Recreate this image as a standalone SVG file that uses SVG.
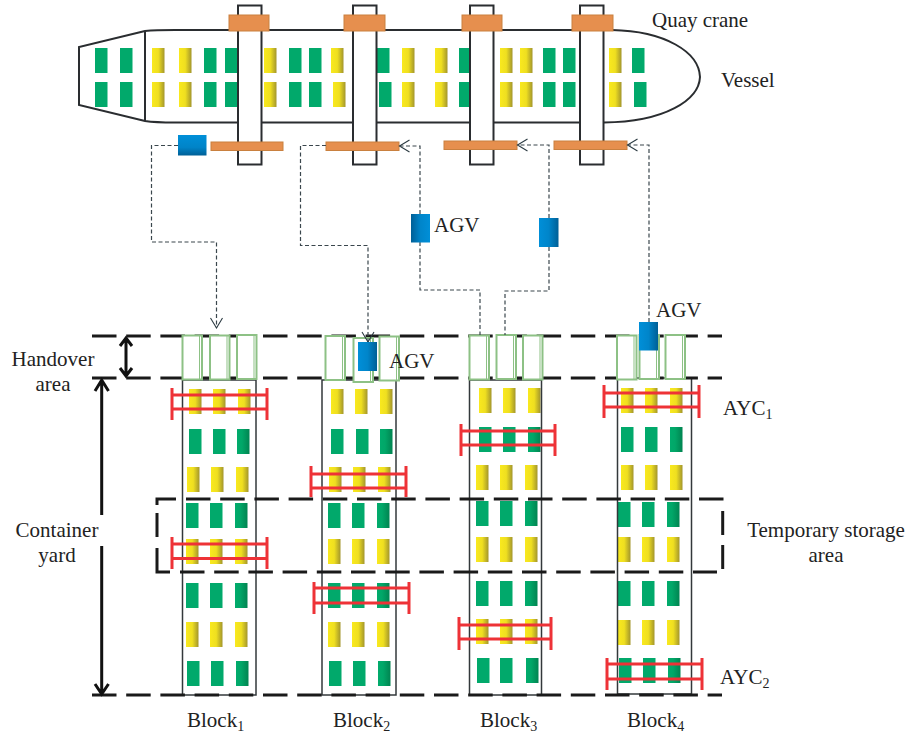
<svg xmlns="http://www.w3.org/2000/svg" xmlns:xlink="http://www.w3.org/1999/xlink" width="906" height="735" viewBox="0 0 906 735">
<defs>
<linearGradient id="gy"><stop offset="0" stop-color="#f9e91e"/><stop offset=".5" stop-color="#efdf20"/><stop offset="1" stop-color="#a3962c"/></linearGradient>
<linearGradient id="gd"><stop offset="0" stop-color="#01ab6c"/><stop offset=".4" stop-color="#01a768"/><stop offset="1" stop-color="#018451"/></linearGradient>
<linearGradient id="bh" x1="0" y1="0" x2="0" y2="1"><stop offset="0" stop-color="#008fd8"/><stop offset=".6" stop-color="#0084c8"/><stop offset="1" stop-color="#005f96"/></linearGradient>
<linearGradient id="bv"><stop offset="0" stop-color="#005f96"/><stop offset=".5" stop-color="#0085ca"/><stop offset="1" stop-color="#008fd8"/></linearGradient>
<rect id="y" width="12.5" height="25" fill="url(#gy)"/>
<rect id="g" width="12.5" height="25" fill="#01a96b"/>
<rect id="d" width="12.5" height="25" fill="url(#gd)"/>
<marker id="open" markerWidth="14" markerHeight="14" refX="11" refY="7" orient="auto" markerUnits="userSpaceOnUse"><path d="M1 1L11 7L1 13" fill="none" stroke="#2b3a42" stroke-width="1.100"/></marker>
<g id="rg"><path d="M0 0H19.500V44H0Z" fill="#fff" stroke="#8dc185" stroke-width="2"/><path d="M17 0V44" fill="none" stroke="#8dc185" stroke-width="1"/></g>
</defs>
<style>
text{font-family:"Liberation Serif","Times New Roman",serif;font-size:21px;fill:#222}
.sub{font-size:14px}
.hull{fill:#fff;stroke:#2a2d30;stroke-width:2}
.leg{fill:#fff;stroke:#2a2d30;stroke-width:2}
.or{fill:#e68f4e;stroke:#c9803f;stroke-width:1}
.blk{fill:none;stroke:#33383b;stroke-width:1.500}
.dash{fill:none;stroke:#1a1a1a;stroke-width:3;stroke-dasharray:24.500 9.700}
.flow{fill:none;stroke:#3a464d;stroke-width:1.200;stroke-dasharray:4 2.500}
.red{fill:none;stroke:#ee3237;stroke-width:3}
.arw{fill:none;stroke:#111;stroke-width:3}
</style>
<g id="vessel">
<path class="hull" d="M145 31L79 47V105L145 121C155 122.500 165 122.500 175 122.500H604C665 122 699 100 700 77C699 52 665 31 612 30H175C165 30 155 30 145 31Z"/>
<path class="hull" d="M145 31V121" fill="none"/>
<use xlink:href="#g" x="95" y="48"/><use xlink:href="#g" x="120" y="48"/><use xlink:href="#y" x="152" y="48"/><use xlink:href="#y" x="179" y="48"/><use xlink:href="#g" x="204" y="48"/><use xlink:href="#g" x="225" y="48"/><use xlink:href="#y" x="264" y="48"/><use xlink:href="#g" x="289" y="48"/><use xlink:href="#g" x="309" y="48"/><use xlink:href="#y" x="331" y="48"/><use xlink:href="#g" x="377" y="48"/><use xlink:href="#y" x="402" y="48"/><use xlink:href="#y" x="435" y="48"/><use xlink:href="#g" x="459" y="48"/><use xlink:href="#y" x="500" y="48"/><use xlink:href="#y" x="520" y="48"/><use xlink:href="#g" x="543" y="48"/><use xlink:href="#g" x="563" y="48"/><use xlink:href="#y" x="609" y="48"/><use xlink:href="#g" x="632" y="48"/>
<use xlink:href="#g" x="95" y="82"/><use xlink:href="#g" x="120" y="82"/><use xlink:href="#y" x="152" y="82"/><use xlink:href="#y" x="179" y="82"/><use xlink:href="#g" x="204" y="82"/><use xlink:href="#g" x="225" y="82"/><use xlink:href="#y" x="264" y="82"/><use xlink:href="#g" x="289" y="82"/><use xlink:href="#g" x="309" y="82"/><use xlink:href="#y" x="333" y="82"/><use xlink:href="#g" x="379" y="82"/><use xlink:href="#y" x="402" y="82"/><use xlink:href="#y" x="435" y="82"/><use xlink:href="#g" x="459" y="82"/><use xlink:href="#y" x="500" y="82"/><use xlink:href="#y" x="520" y="82"/><use xlink:href="#g" x="543" y="82"/><use xlink:href="#g" x="563" y="82"/><use xlink:href="#y" x="609" y="82"/><use xlink:href="#g" x="634" y="82"/>
<text x="652" y="27">Quay crane</text>
<text x="721" y="87">Vessel</text>
</g>
<g id="quay-crane-1"><rect class="leg" x="238" y="5.500" width="23.500" height="159"/><rect class="or" x="229" y="15" width="40" height="16"/><rect class="or" x="211" y="142" width="72" height="8.500"/></g>
<g id="quay-crane-2"><rect class="leg" x="353" y="5.500" width="23.500" height="159"/><rect class="or" x="344" y="15" width="41" height="16"/><rect class="or" x="326" y="142" width="73" height="8.500"/></g>
<g id="quay-crane-3"><rect class="leg" x="470" y="5.500" width="23.500" height="159"/><rect class="or" x="462" y="15" width="40" height="16"/><rect class="or" x="444" y="141" width="73" height="8.500"/></g>
<g id="quay-crane-4"><rect class="leg" x="580" y="5.500" width="23.500" height="159"/><rect class="or" x="572" y="15" width="41" height="16"/><rect class="or" x="554" y="141" width="73" height="8.500"/></g>
<g id="block-1">
<use xlink:href="#y" x="189" y="389"/><use xlink:href="#y" x="213" y="389"/><use xlink:href="#y" x="238" y="389"/>
<use xlink:href="#g" x="189" y="429"/><use xlink:href="#g" x="213" y="429"/><use xlink:href="#d" x="237" y="429"/>
<use xlink:href="#y" x="187" y="467"/><use xlink:href="#y" x="211" y="467"/><use xlink:href="#y" x="236" y="467"/>
<use xlink:href="#g" x="186" y="503"/><use xlink:href="#g" x="210" y="503"/><use xlink:href="#d" x="235" y="503"/>
<use xlink:href="#y" x="186" y="539"/><use xlink:href="#y" x="210" y="539"/><use xlink:href="#y" x="235" y="539"/>
<use xlink:href="#g" x="186" y="583"/><use xlink:href="#g" x="210" y="583"/><use xlink:href="#d" x="235" y="583"/>
<use xlink:href="#y" x="186" y="622"/><use xlink:href="#y" x="210" y="622"/><use xlink:href="#y" x="235" y="622"/>
<use xlink:href="#g" x="187" y="661"/><use xlink:href="#g" x="211" y="661"/><use xlink:href="#d" x="236" y="661"/>
<rect class="blk" x="182.500" y="380" width="73.500" height="315"/>
<text x="187" y="727">Block<tspan class="sub" dy="4">1</tspan></text>
</g>
<g id="block-2">
<use xlink:href="#y" x="331" y="389"/><use xlink:href="#y" x="355" y="389"/><use xlink:href="#y" x="380" y="389"/>
<use xlink:href="#g" x="331" y="429"/><use xlink:href="#g" x="356" y="429"/><use xlink:href="#d" x="380" y="429"/>
<use xlink:href="#y" x="329" y="467"/><use xlink:href="#y" x="353" y="467"/><use xlink:href="#y" x="378" y="467"/>
<use xlink:href="#g" x="328" y="503"/><use xlink:href="#g" x="352" y="503"/><use xlink:href="#d" x="377" y="503"/>
<use xlink:href="#y" x="328" y="539"/><use xlink:href="#y" x="352" y="539"/><use xlink:href="#y" x="377" y="539"/>
<use xlink:href="#g" x="328" y="583"/><use xlink:href="#g" x="352" y="583"/><use xlink:href="#d" x="377" y="583"/>
<use xlink:href="#y" x="328" y="622"/><use xlink:href="#y" x="352" y="622"/><use xlink:href="#y" x="377" y="622"/>
<use xlink:href="#g" x="329" y="661"/><use xlink:href="#g" x="353" y="661"/><use xlink:href="#d" x="378" y="661"/>
<rect class="blk" x="322" y="380" width="74" height="315"/>
<text x="333" y="727">Block<tspan class="sub" dy="4">2</tspan></text>
</g>
<g id="block-3">
<use xlink:href="#y" x="479" y="388"/><use xlink:href="#y" x="503" y="388"/><use xlink:href="#y" x="528" y="388"/>
<use xlink:href="#g" x="479" y="427"/><use xlink:href="#g" x="503" y="427"/><use xlink:href="#d" x="528" y="427"/>
<use xlink:href="#y" x="476" y="465"/><use xlink:href="#y" x="500" y="465"/><use xlink:href="#y" x="525" y="465"/>
<use xlink:href="#g" x="476" y="501"/><use xlink:href="#g" x="500" y="501"/><use xlink:href="#d" x="525" y="501"/>
<use xlink:href="#y" x="476" y="537"/><use xlink:href="#y" x="500" y="537"/><use xlink:href="#y" x="525" y="537"/>
<use xlink:href="#g" x="476" y="581"/><use xlink:href="#g" x="500" y="581"/><use xlink:href="#d" x="525" y="581"/>
<use xlink:href="#y" x="476" y="619"/><use xlink:href="#y" x="500" y="619"/><use xlink:href="#y" x="525" y="619"/>
<use xlink:href="#g" x="477" y="658"/><use xlink:href="#g" x="500" y="658"/><use xlink:href="#d" x="526" y="658"/>
<rect class="blk" x="469.500" y="380" width="72" height="315"/>
<text x="480" y="727">Block<tspan class="sub" dy="4">3</tspan></text>
</g>
<g id="block-4">
<use xlink:href="#y" x="621" y="388"/><use xlink:href="#y" x="645" y="388"/><use xlink:href="#y" x="670" y="388"/>
<use xlink:href="#g" x="621" y="427"/><use xlink:href="#g" x="645" y="427"/><use xlink:href="#d" x="670" y="427"/>
<use xlink:href="#y" x="621" y="465"/><use xlink:href="#y" x="645" y="465"/><use xlink:href="#y" x="670" y="465"/>
<use xlink:href="#g" x="618" y="502"/><use xlink:href="#g" x="642" y="502"/><use xlink:href="#d" x="667" y="502"/>
<use xlink:href="#y" x="618" y="537"/><use xlink:href="#y" x="642" y="537"/><use xlink:href="#y" x="667" y="537"/>
<use xlink:href="#g" x="618" y="581"/><use xlink:href="#g" x="642" y="581"/><use xlink:href="#d" x="667" y="581"/>
<use xlink:href="#y" x="618" y="620"/><use xlink:href="#y" x="642" y="620"/><use xlink:href="#y" x="667" y="620"/>
<use xlink:href="#g" x="619" y="658"/><use xlink:href="#g" x="643" y="658"/><use xlink:href="#d" x="668" y="658"/>
<rect class="blk" x="617.500" y="378" width="74" height="316"/>
<text x="627" y="727">Block<tspan class="sub" dy="4">4</tspan></text>
</g>
<g id="area-lines">
<path class="dash" d="M92 336H722"/>
<path class="dash" d="M92 378H722"/>
<path class="dash" d="M92 695H722"/>
<path class="dash" d="M186 499H724"/>
<path class="dash" d="M180 572H717"/>
<path class="dash" style="stroke-dasharray:none" d="M176 499H157V505M157 513V537M157 548V572H170M722.700 511V535M722.700 545V569"/>
</g>
<g id="handover-area">
<use xlink:href="#rg" x="182.500" y="335.500"/><use xlink:href="#rg" x="210" y="335.500"/><use xlink:href="#rg" x="237" y="335"/>
<use xlink:href="#rg" x="325.500" y="336"/><use xlink:href="#rg" x="353.500" y="338"/><use xlink:href="#rg" x="379.500" y="336.500"/>
<use xlink:href="#rg" x="469.500" y="335.500"/><use xlink:href="#rg" x="496.500" y="335"/><use xlink:href="#rg" x="523" y="335.500"/>
<use xlink:href="#rg" x="617" y="335.500"/><use xlink:href="#rg" x="639.500" y="335"/><use xlink:href="#rg" x="665.500" y="335"/>
<text x="53" y="366" text-anchor="middle">Handover</text>
<text x="53" y="391" text-anchor="middle">area</text>
</g>
<g id="labels">
<text x="57" y="537" text-anchor="middle">Container</text>
<text x="57" y="562" text-anchor="middle">yard</text>
<text x="826" y="537" text-anchor="middle">Temporary storage</text>
<text x="826" y="562" text-anchor="middle">area</text>
</g>
<g id="connectors">
<path class="flow" d="M178 145.500H151.500V242H216.500V328" marker-end="url(#open)"/>
<path class="flow" d="M326 145.500H300.500V245.500H368V342" marker-end="url(#open)"/>
<path class="flow" d="M420 214V146H399.500" marker-end="url(#open)"/>
<path class="flow" d="M420 242V290H480V335"/>
<path class="flow" d="M549 218V145H517.500" marker-end="url(#open)"/>
<path class="flow" d="M549 247V291H505V335"/>
<path class="flow" d="M649 322V145H627.500" marker-end="url(#open)"/>
<path class="arw" d="M126 338V376M120 346L126 338L132 346M120 368L126 376L132 368"/>
<path class="arw" d="M101.700 380V515M101.700 546V694M95 391L101.700 380L108.500 391M95 684L101.700 694L108.500 684"/>
</g>
<g id="agv-1"><rect x="178" y="135" width="28.500" height="20.500" fill="url(#bh)"/></g>
<g id="agv-2"><rect x="411" y="214" width="19" height="28.500" fill="url(#bv)"/><text x="434" y="232">AGV</text></g>
<g id="agv-3"><rect x="539" y="218" width="19.500" height="29" fill="url(#bv)" transform="rotate(180 548.750 232.500)"/></g>
<g id="agv-4"><rect x="639" y="322" width="19" height="28.500" fill="url(#bv)" transform="rotate(180 648.500 336.250)"/><text x="656" y="317">AGV</text></g>
<g id="agv-5"><rect x="358" y="342" width="19" height="29" fill="url(#bv)" transform="rotate(180 367.500 356.500)"/><text x="389" y="368">AGV</text></g>
<g id="ayc-1"><path class="red" d="M172 388V420M267 388V420M172 395H267M172 409H267"/></g>
<g id="ayc-2"><path class="red" d="M172 537V569M267 537V569M172 544H267M172 558.500H267"/></g>
<g id="ayc-3"><path class="red" d="M311 466V497M406 466V497M311 474H406M311 488H406"/></g>
<g id="ayc-4"><path class="red" d="M314 582V614M409 582V614M314 588H409M314 603H409"/></g>
<g id="ayc-5"><path class="red" d="M461 424V456M555 424V456M461 431H555M461 445H555"/></g>
<g id="ayc-6"><path class="red" d="M459 617V650M551 617V650M459 625H551M459 639H551"/></g>
<g id="ayc-7"><path class="red" d="M604 385V418M699 385V418M604 393H699M604 407H699"/><text x="723" y="415">AYC<tspan class="sub" dy="4">1</tspan></text></g>
<g id="ayc-8"><path class="red" d="M607 658V690M702 658V690M607 664H702M607 679H702"/><text x="720" y="684">AYC<tspan class="sub" dy="4">2</tspan></text></g>
</svg>
